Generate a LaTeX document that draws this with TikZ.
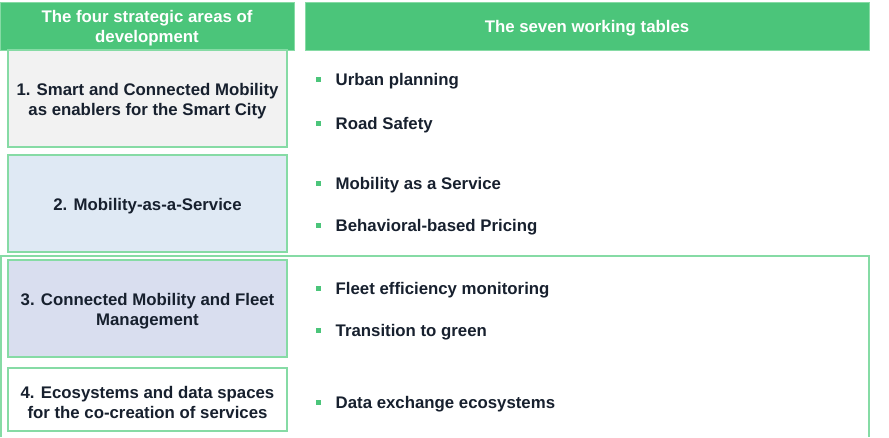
\documentclass[tikz,border=0pt]{standalone}
\usepackage{fontspec}
\setmainfont{Liberation Sans}
\usepackage{xcolor}

\definecolor{headgreen}{HTML}{4BC57A}
\definecolor{linegreen}{HTML}{86DBA5}
\definecolor{darktext}{HTML}{17202E}
\definecolor{fillgrey}{HTML}{F2F2F2}
\definecolor{fillblue}{HTML}{DFE9F4}
\definecolor{filllav}{HTML}{D9DEEF}

\newcommand{\bsq}{\textcolor{headgreen}{\raisebox{3.5pt}{\rule{5pt}{5pt}}}\hspace{14.5pt}}

\begin{document}
\begin{tikzpicture}
  [x=1pt,y=-1pt,font=\fontsize{16.8}{20}\selectfont\bfseries]
      \tikzstyle{head_style} = [fill=headgreen, draw=linegreen, line width=0.8pt, minimum height=48pt]
      \tikzstyle{head_text} = [text=white, align=center, inner sep=0pt]
      \tikzstyle{area_style} = [draw=linegreen, line width=1.2pt, minimum width=279pt]
      \tikzstyle{area_text} = [text=darktext, align=center, inner sep=0pt]
      \tikzstyle{item_style} = [anchor=base west, text=darktext, inner sep=0pt]
  \useasboundingbox (0,0) rectangle (889,437);
  % outer frame round areas 3 and 4
  \draw[linegreen, line width=1.2pt] (1,437) -- (1,256) -- (869,256) -- (869,437);
  % headers
  \node[head_style, minimum width=294pt] (h_left) at (147,26) {};
  \node[head_text] (h_left_text) at ([yshift=-2.5pt]h_left.center) {The four strategic areas of\\development};
  \node[head_style, minimum width=564pt] (h_right) at (587,26) {};
  \node[head_text] (h_right_text) at ([yshift=-2pt]h_right.center) {The seven working tables};
  % strategic areas
  \node[area_style, fill=fillgrey, minimum height=97pt] (a1) at (147.5,98.5) {};
  \node[area_text] (a1_text) at ([yshift=-3pt]a1.center) {1. Smart and Connected Mobility\\as enablers for the Smart City};
  \node[area_style, fill=fillblue, minimum height=97pt] (a2) at (147.5,203.5) {};
  \node[area_text] (a2_text) at ([yshift=-3pt]a2.center) {2. Mobility-as-a-Service};
  \node[area_style, fill=filllav, minimum height=97pt] (a3) at (147.5,308.5) {};
  \node[area_text] (a3_text) at ([yshift=-3pt]a3.center) {3. Connected Mobility and Fleet\\Management};
  \node[area_style, fill=white, minimum height=63pt] (a4) at (147.5,399.5) {};
  \node[area_text] (a4_text) at ([yshift=-3pt]a4.center) {4. Ecosystems and data spaces\\for the co-creation of services};
  % working tables
  \node[item_style] (w1) at (316,85) {\bsq Urban planning};
  \node[item_style] (w2) at (316,129) {\bsq Road Safety};
  \node[item_style] (w3) at (316,189) {\bsq Mobility as a Service};
  \node[item_style] (w4) at (316,231) {\bsq Behavioral-based Pricing};
  \node[item_style] (w5) at (316,294) {\bsq Fleet efficiency monitoring};
  \node[item_style] (w6) at (316,336) {\bsq Transition to green};
  \node[item_style] (w7) at (316,408) {\bsq Data exchange ecosystems};
\end{tikzpicture}
\end{document}
